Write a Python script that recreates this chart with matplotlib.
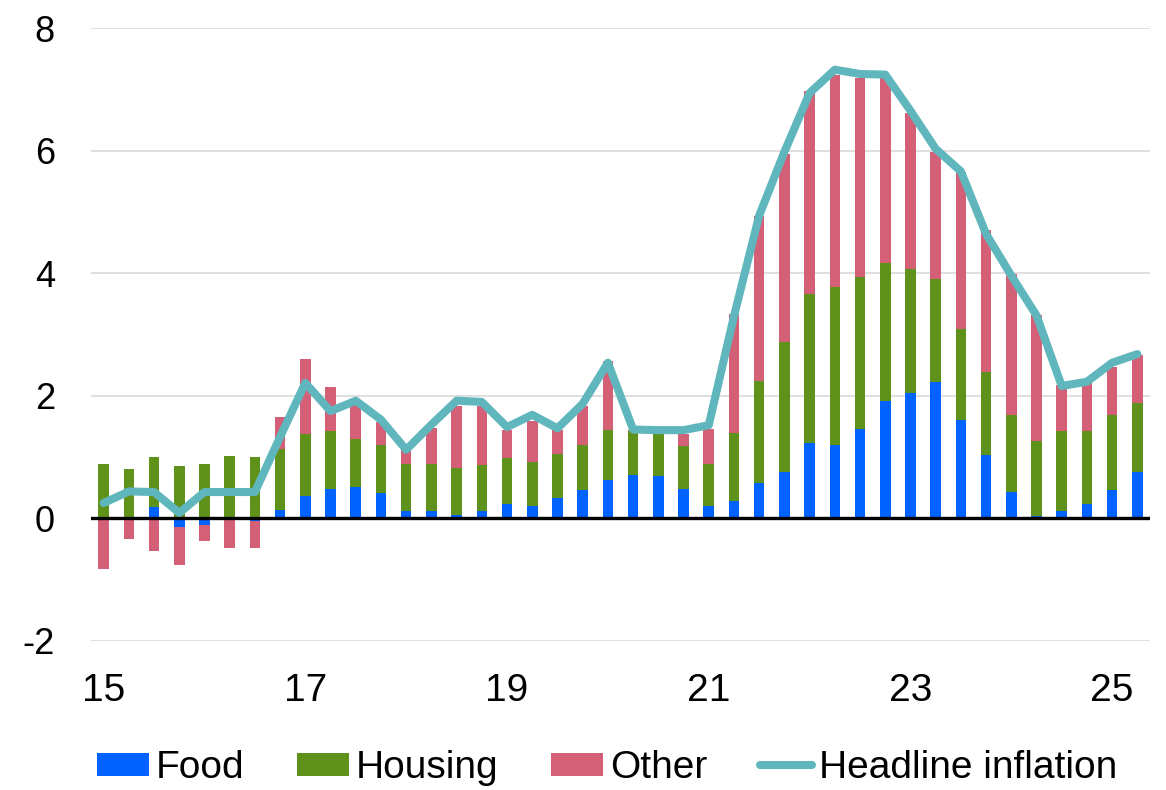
import numpy as np
import matplotlib
matplotlib.use("Agg")
import matplotlib.pyplot as plt
from matplotlib.patches import Patch
from matplotlib.lines import Line2D

plt.rcParams['font.family'] = ['Liberation Sans', 'DejaVu Sans']

# Quarterly data, 2015Q1 .. 2025Q2
quarters = [f"{y}Q{q}" for y in range(2015, 2026) for q in range(1, 5)][:42]

food = [0.00, 0.03, 0.18, -0.14, -0.10, 0.00, -0.05, 0.13, 0.36, 0.48,
        0.52, 0.42, 0.12, 0.12, 0.05, 0.12, 0.23, 0.21, 0.33, 0.46,
        0.62, 0.71, 0.69, 0.48, 0.21, 0.28, 0.57, 0.75, 1.23, 1.20,
        1.46, 1.91, 2.05, 2.22, 1.61, 1.04, 0.43, 0.04, 0.12, 0.23,
        0.47, 0.76]
housing = [0.89, 0.77, 0.82, 0.86, 0.89, 1.01, 1.00, 1.00, 1.01, 0.95,
           0.77, 0.77, 0.77, 0.76, 0.77, 0.75, 0.76, 0.71, 0.72, 0.73,
           0.83, 0.71, 0.69, 0.70, 0.68, 1.11, 1.67, 2.13, 2.43, 2.58,
           2.48, 2.25, 2.02, 1.69, 1.48, 1.35, 1.26, 1.22, 1.31, 1.19,
           1.22, 1.12]
other = [-0.83, -0.34, -0.53, -0.62, -0.27, -0.49, -0.43, 0.52, 1.23, 0.71,
         0.61, 0.39, 0.23, 0.59, 1.01, 0.96, 0.46, 0.67, 0.40, 0.64,
         1.12, 0.03, 0.05, 0.20, 0.57, 1.95, 2.70, 3.07, 3.32, 3.46,
         3.24, 3.02, 2.55, 2.07, 2.56, 2.32, 2.30, 2.05, 0.74, 0.81,
         0.78, 0.78]
headline = [0.25, 0.44, 0.43, 0.09, 0.43, 0.43, 0.43, 1.33, 2.21, 1.75,
            1.92, 1.61, 1.12, 1.53, 1.92, 1.90, 1.49, 1.69, 1.47, 1.87,
            2.54, 1.45, 1.44, 1.44, 1.52, 3.30, 4.94, 5.98, 6.94, 7.32,
            7.25, 7.24, 6.65, 6.03, 5.66, 4.64, 3.96, 3.31, 2.16, 2.23,
            2.54, 2.68]

tick_idx = [0, 8, 16, 24, 32, 40]
tick_labels = ["15", "17", "19", "21", "23", "25"]
yticks = [-2, 0, 2, 4, 6, 8]

series_names = ["Food", "Housing", "Other", "Headline inflation"]
colors = {"Food": "#0062FF", "Housing": "#5E921A", "Other": "#D46077",
          "Headline inflation": "#60B6BD"}

fig = plt.figure(figsize=(11.66, 7.90), dpi=100)
ax = fig.add_axes([91/1166, 1-641/790, (1150-91)/1166, (641-28)/790])

x = np.arange(len(quarters))
pos_bottom = np.zeros(len(x))
neg_bottom = np.zeros(len(x))
w = 0.42
for name, vals in [("Food", food), ("Housing", housing), ("Other", other)]:
    v = np.array(vals, dtype=float)
    bottoms = np.where(v >= 0, pos_bottom, neg_bottom)
    ax.bar(x, v, width=w, bottom=bottoms, color=colors[name],
           edgecolor='none', zorder=2)
    pos_bottom = pos_bottom + np.where(v >= 0, v, 0)
    neg_bottom = neg_bottom + np.where(v < 0, v, 0)

ax.axhline(0, color='black', lw=2.4, zorder=3)
ax.plot(x, headline, color=colors["Headline inflation"], lw=5.8,
        solid_joinstyle='round', solid_capstyle='round', zorder=4)

ax.set_xlim(-0.5, 41.5)
ax.set_ylim(-2, 8)
ax.set_yticks(yticks)
ax.set_yticklabels([str(t) for t in yticks])
ax.set_xticks(tick_idx)
ax.set_xticklabels(tick_labels)
ax.tick_params(axis='y', length=0, pad=26, labelsize=26)
ax.tick_params(axis='x', length=0, pad=23, labelsize=28)
ax.grid(axis='y', color='#D9D9D9', lw=1.2, zorder=0)
ax.set_axisbelow(True)
for s in ax.spines.values():
    s.set_visible(False)

handles = [Patch(facecolor=colors["Food"], edgecolor='none'),
           Patch(facecolor=colors["Housing"], edgecolor='none'),
           Patch(facecolor=colors["Other"], edgecolor='none'),
           Line2D([0], [0], color=colors["Headline inflation"], lw=5.8,
                  solid_capstyle='round')]
fig.legend(handles, series_names, loc='center',
           bbox_to_anchor=(607/1166, 1-768/790), ncol=4, frameon=False,
           fontsize=28, handlelength=1.34, handleheight=0.55,
           handletextpad=0.18, columnspacing=1.35, borderpad=0,
           borderaxespad=0)

fig.savefig("out.png", dpi=100)
